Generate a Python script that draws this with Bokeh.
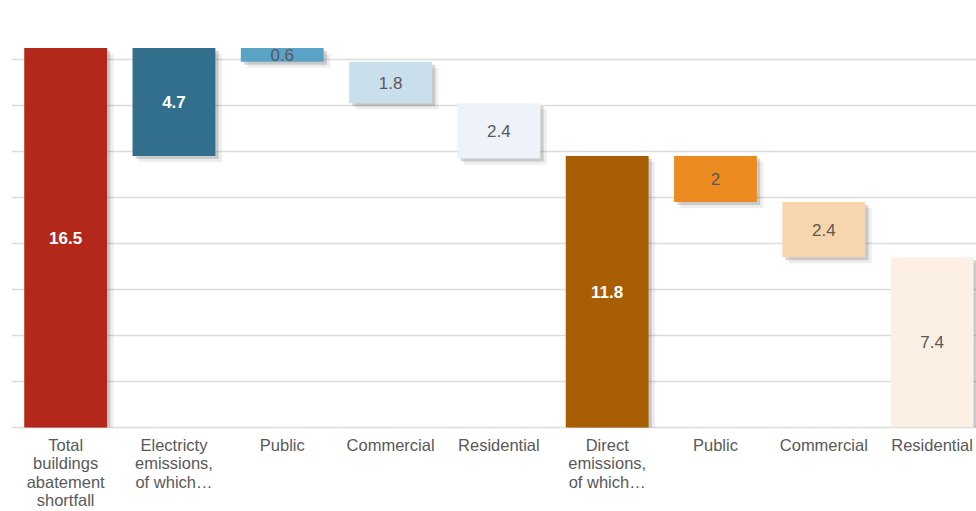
from bokeh.plotting import figure
from bokeh.models import Range1d, FixedTicker, Grid, ColumnDataSource
from bokeh.core.properties import value
from bokeh.embed import file_html
from bokeh.resources import INLINE

categories = ["Total\nbuildings\nabatement\nshortfall", "Electricty\nemissions,\nof which…",
              "Public", "Commercial", "Residential",
              "Direct\nemissions,\nof which…", "Public", "Commercial", "Residential"]
values = [16.5, 4.7, 0.6, 1.8, 2.4, 11.8, 2, 2.4, 7.4]
kinds = ["total", "sub", "step", "step", "step", "total", "step", "step", "step"]
labels = ["16.5", "4.7", "0.6", "1.8", "2.4", "11.8", "2", "2.4", "7.4"]
colors = ["#b3281b", "#326f8c", "#5ba3c6", "#c9dfec", "#edf3f8",
          "#a85e05", "#ec8b1f", "#f8d6ad", "#fcefe3"]
grid_ticks = [0, 2, 4, 6, 8, 10, 12, 14, 16, 18]

xs, tops, bottoms = [], [], []
level = 0.0
for i, (v, k) in enumerate(zip(values, kinds)):
    if k == "total":
        b, t = 0.0, v
        level = v
    elif k == "sub":
        t, b = level, level - v
    else:
        t, b = level, level - v
        level = b
    xs.append(i)
    tops.append(t)
    bottoms.append(b)

W = 0.765
src = ColumnDataSource(dict(
    x=xs, left=[x - W / 2 for x in xs], right=[x + W / 2 for x in xs],
    top=tops, bottom=bottoms, color=colors,
))

PX = 23.0            # pixels per unit on the y scale
FRAME_H = 498
y_top = 18
y_bottom = y_top - FRAME_H / PX
LABEL_GAP = 8.5 / PX

p = figure(width=976, height=511, output_backend="svg", toolbar_location=None,
           x_range=Range1d(-0.5, 8.41), y_range=Range1d(y_bottom, y_top),
           x_axis_location=None, y_axis_location=None,
           min_border_left=11, min_border_right=0,
           min_border_top=13, min_border_bottom=0)
p.outline_line_color = None
for g in p.grid:
    g.visible = False
p.add_layout(Grid(dimension=1, ticker=FixedTicker(ticks=grid_ticks),
                  grid_line_color="#dcdcdc", grid_line_width=1.5))

# shadows
dx, dy = 0.03, 0.13
for k, a in [(2.0, 0.10), (1.0, 0.24)]:
    p.quad(left=[l + dx * k for l in src.data["left"]],
           right=[r + dx * k for r in src.data["right"]],
           top=[t - dy * k for t in tops],
           bottom=[(b - dy * k) if b > 0 else 0 for b in bottoms],
           fill_color="#555555", fill_alpha=a, line_color=None)

p.quad(left="left", right="right", top="top", bottom="bottom", source=src,
       fill_color="color", line_color=None)

dark = [0, 1, 5]
for i in range(len(values)):
    is_dark = i in dark
    p.text(x=[xs[i]], y=[(tops[i] + bottoms[i]) / 2], text=[labels[i]],
           text_align="center", text_baseline="middle",
           text_font=value("Liberation Sans"), text_font_size="17px",
           text_font_style="bold" if is_dark else "normal",
           text_color="white" if is_dark else "#595959")

# category labels under the baseline
p.text(x=xs, y=[-LABEL_GAP] * len(xs), text=categories,
       text_align="center", text_baseline="top",
       text_font=value("Liberation Sans"), text_font_size="16.5px",
       text_color="#595959", text_line_height=1.02)

open("out.html", "w").write(file_html(p, INLINE))
